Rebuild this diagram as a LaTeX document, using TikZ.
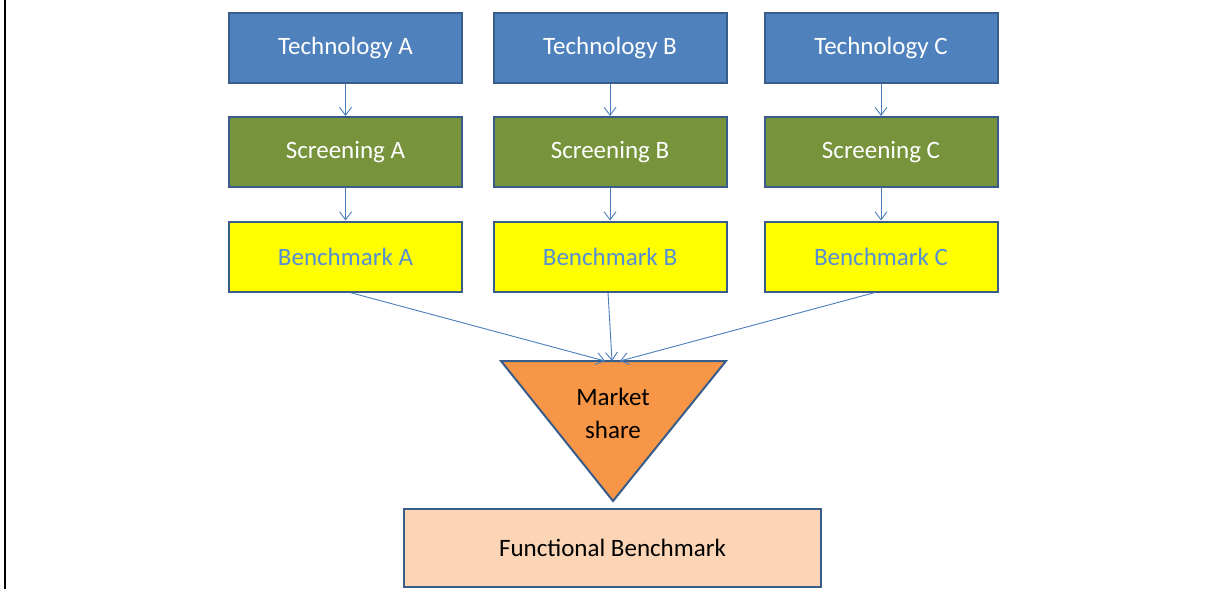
\documentclass[tikz,border=0pt]{standalone}
\usepackage{fontspec}
\setmainfont{Carlito}
\usetikzlibrary{arrows.meta}
\definecolor{techblue}{HTML}{4F81BD}
\definecolor{edgeblue}{HTML}{385D8A}
\definecolor{screengreen}{HTML}{77933C}
\definecolor{benchyellow}{HTML}{FFFF00}
\definecolor{benchtext}{HTML}{558ED5}
\definecolor{shareorange}{HTML}{F79646}
\definecolor{funcpeach}{HTML}{FBD5B5}
\definecolor{linkblue}{HTML}{4A7EBB}
\tikzset{
  box/.style={draw=edgeblue, line width=2pt, minimum width=233pt, minimum height=70pt, font=\fontsize{25}{30}\selectfont},
  link/.style={draw=linkblue, line width=0.9pt, -{Straight Barb[length=8pt,width=12pt]}}
}
\begin{document}
\begin{tikzpicture}[x=1pt,y=-1pt]
\useasboundingbox (0,0) rectangle (1215,589);
\draw[line width=2.5pt] (5,0) -- (5,589); % frame on the left
\foreach \x/\n in {345.5/A, 610/B, 881/C} % edit here for the three columns
{
\node[box, fill=techblue, text=white] (t\n) at (\x,47.5) {Technology \n};
\node[box, fill=screengreen, text=white] (s\n) at (\x,152) {Screening \n};
\node[box, fill=benchyellow, text=benchtext] (b\n) at (\x,256.5) {Benchmark \n};
\draw[link] (t\n) -- (s\n);
\draw[link] (s\n) -- (b\n);
}
% the triangle
\coordinate (mleft) at (501,361);
\coordinate (mright) at (726,361);
\coordinate (mtip) at (613,501);
\draw[draw=edgeblue, line width=2pt, fill=shareorange, line join=miter] (mleft) -- (mright) -- (mtip) -- cycle;
\node[align=center, font=\fontsize{25}{33}\selectfont] (m) at (613,413) {Market\\share};
\coordinate (inA) at (605,361);
\coordinate (inB) at (612,361);
\coordinate (inC) at (620,361);
\draw[link] ([xshift=4.5pt]bA.south) -- (inA);
\draw[link] ([xshift=-2pt]bB.south) -- (inB);
\draw[link] ([xshift=-6pt]bC.south) -- (inC);
\node[box, fill=funcpeach, minimum width=417pt, minimum height=78pt] (f) at (612.5,548) {Functional Benchmark};
\end{tikzpicture}
\end{document}
